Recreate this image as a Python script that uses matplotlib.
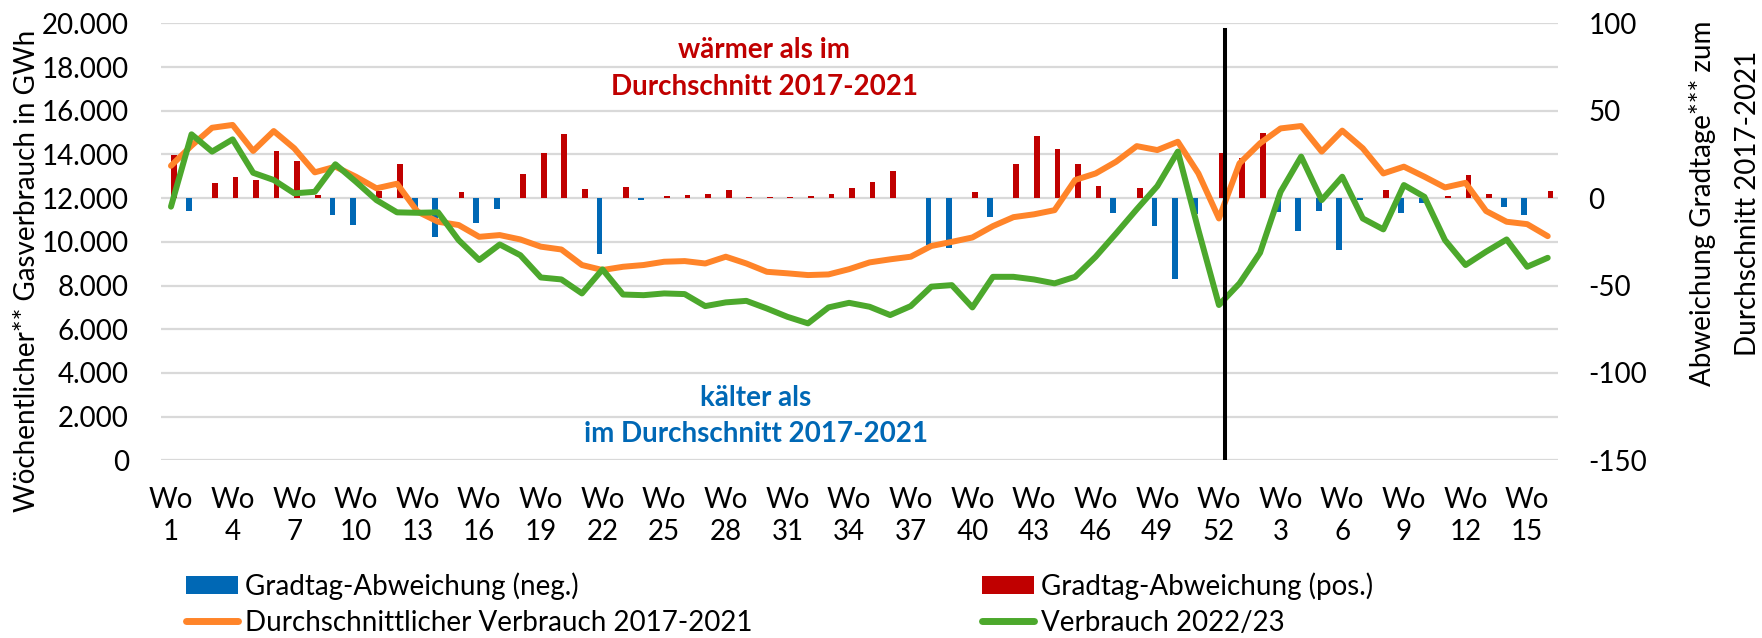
import numpy as np
import matplotlib
matplotlib.use("Agg")
import matplotlib.pyplot as plt
from matplotlib.ticker import FuncFormatter, MultipleLocator
from matplotlib.lines import Line2D
from matplotlib.patches import Patch

# ---------------- data ----------------
weeks = list(range(1, 53)) + list(range(1, 17))

avg_2017_2021 = [13480, 14400, 15220, 15350, 14160, 15070, 14280, 13180, 13440, 12980,
                 12450, 12660, 11380, 10920, 10770, 10230, 10310, 10110, 9780, 9650,
                 8940, 8710, 8860, 8940, 9090, 9120, 9010, 9320, 9010, 8630,
                 8560, 8480, 8510, 8750, 9060, 9200, 9320, 9810, 10000, 10200,
                 10720, 11130, 11260, 11450, 12830, 13130, 13670, 14380, 14200, 14580,
                 13130, 11070, 13590, 14510, 15190, 15300, 14130, 15090, 14280, 13130,
                 13440, 12980, 12490, 12700, 11410, 10920, 10810, 10260]

verbrauch_2022_23 = [11610, 14920, 14130, 14690, 13160, 12830, 12220, 12290, 13550, 12750,
                     11910, 11350, 11330, 11350, 10080, 9170, 9880, 9390, 8370, 8280,
                     7640, 8740, 7590, 7560, 7640, 7610, 7060, 7230, 7300, 6950,
                     6570, 6270, 7000, 7210, 7030, 6650, 7060, 7950, 8020, 7000,
                     8400, 8400, 8280, 8100, 8400, 9320, 10390, 11490, 12550, 14130,
                     10540, 7110, 8100, 9500, 12290, 13900, 11910, 12980, 11070, 10570,
                     12600, 12060, 10080, 8940, 9550, 10110, 8860, 9270]

gradtag_abweichung = [24.6, -7.4, 8.6, 12.0, 10.3, 26.9, 21.2, 1.7, -9.7, -15.3,
                      4.0, 19.5, -5.9, -22.1, 3.4, -14.1, -6.1, 13.7, 25.7, 36.8,
                      5.5, -31.7, 6.1, -0.8, 1.5, 1.7, 2.3, 4.8, 0.8, 0.6,
                      0.6, 1.3, 2.5, 5.7, 9.0, 15.3, 0.3, -26.9, -28.8, 3.4,
                      -10.7, 19.3, 35.5, 28.0, 19.5, 7.2, -8.4, 5.7, -16.2, -46.0,
                      -9.0, 25.6, 22.9, 37.2, -8.2, -18.7, -7.2, -29.7, -1.1, 4.6,
                      -8.4, -2.5, 1.5, 13.3, 2.3, -4.8, -9.9, 4.0]

tick_labels = [f"Wo\n{w}" for w in weeks]
year_break_pos = 51.3   # position of the black separator line (category units)

# ---------------- style ----------------
BLUE = "#0068B5"
RED = "#C00000"
ORANGE = "#FF8429"
GREEN = "#4CA82C"
GRID = "#D9D9D9"
FS = 20

plt.rcParams["font.family"] = ["Lato", "DejaVu Sans"]
plt.rcParams["axes.unicode_minus"] = False

W, H = 1762, 638
fig = plt.figure(figsize=(W / 100, H / 100), dpi=100)
L, R, T, B = 160.7, 1558.0, 23.3, 460.4
ax = fig.add_axes([L / W, 1 - B / H, (R - L) / W, (B - T) / H])  # bars (right scale)
ax2 = ax.twinx()                                                  # lines (left scale)

x = np.arange(len(weeks))
dev = np.array(gradtag_abweichung)
neg = np.where(dev < 0, dev, 0.0)
pos = np.where(dev > 0, dev, 0.0)
bw = 0.28
ax.bar(x - bw / 2, neg, width=bw, color=BLUE, linewidth=0, zorder=2)
ax.bar(x + bw / 2, pos, width=bw, color=RED, linewidth=0, zorder=2)

ax.set_xlim(-0.5, len(weeks) - 0.5)
ax.set_ylim(-150, 100)
ax.yaxis.set_major_locator(MultipleLocator(50))
ax.yaxis.set_minor_locator(MultipleLocator(25))
ax.grid(True, which="both", axis="y", color=GRID, lw=1.6)
ax.set_axisbelow(True)
ax.yaxis.tick_right()
ax.tick_params(axis="y", which="both", length=0, labelsize=FS, pad=22)
ax.set_xticks(x[::3])
ax.set_xticklabels(tick_labels[::3], linespacing=1.27)
ax.tick_params(axis="x", length=0, labelsize=FS, pad=19.5)

ax2.plot(x, avg_2017_2021, color=ORANGE, lw=4.3, solid_joinstyle="round",
         solid_capstyle="round", zorder=3)
ax2.plot(x, verbrauch_2022_23, color=GREEN, lw=4.3, solid_joinstyle="round",
         solid_capstyle="round", zorder=4)
ax2.axvline(year_break_pos, ymin=0, ymax=0.985, color="black", lw=2.9, zorder=5)
ax2.set_ylim(0, 20000)
ax2.yaxis.set_major_locator(MultipleLocator(2000))
ax2.yaxis.set_major_formatter(FuncFormatter(lambda v, p: f"{int(v):,}".replace(",", ".")))
ax2.yaxis.tick_left()
ax2.tick_params(axis="y", length=0, labelsize=FS, pad=23)

for a in (ax, ax2):
    for s in a.spines.values():
        s.set_visible(False)

# annotations
ax.text(0.4318, 0.9385, "wärmer als im", transform=ax.transAxes, ha="center", va="center",
        color=RED, fontsize=FS, fontweight="bold")
ax.text(0.4318, 0.8536, "Durchschnitt 2017-2021", transform=ax.transAxes, ha="center",
        va="center", color=RED, fontsize=FS, fontweight="bold")
ax.text(0.426, 0.142, "kälter als", transform=ax.transAxes, ha="center", va="center",
        color=BLUE, fontsize=FS, fontweight="bold")
ax.text(0.426, 0.0597, "im Durchschnitt 2017-2021", transform=ax.transAxes, ha="center",
        va="center", color=BLUE, fontsize=FS, fontweight="bold")

# axis titles
fig.text(27 / W, 1 - 271 / H, "Wöchentlicher** Gasverbrauch in GWh", rotation=90,
         ha="center", va="center", fontsize=FS)
fig.text(1703 / W, 1 - 203 / H, "Abweichung Gradtage*** zum", rotation=90,
         ha="center", va="center", fontsize=FS)
fig.text(1748 / W, 1 - 203 / H, "Durchschnitt 2017-2021", rotation=90,
         ha="center", va="center", fontsize=FS)

# legends
h_neg = Patch(color=BLUE, linewidth=0)
h_pos = Patch(color=RED, linewidth=0)
h_avg = Line2D([], [], color=ORANGE, lw=5, solid_capstyle="round")
h_cur = Line2D([], [], color=GREEN, lw=5, solid_capstyle="round")
common = dict(loc="upper left", frameon=False, fontsize=FS, handlelength=1.87,
              handleheight=0.65, handletextpad=0.25, labelspacing=0.36,
              borderpad=0, borderaxespad=0)
fig.legend([h_neg, h_avg], ["Gradtag-Abweichung (neg.)", "Durchschnittlicher Verbrauch 2017-2021"],
           bbox_to_anchor=(186 / W, 1 - 572 / H), **common)
fig.legend([h_pos, h_cur], ["Gradtag-Abweichung (pos.)", "Verbrauch 2022/23"],
           bbox_to_anchor=(982 / W, 1 - 572 / H), **common)

fig.savefig("out.png", dpi=100)
